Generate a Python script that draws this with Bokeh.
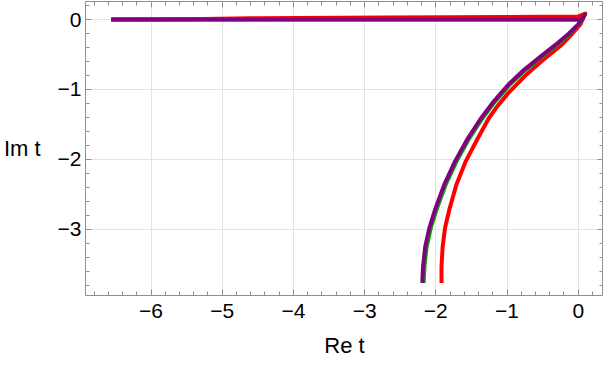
from bokeh.plotting import figure
from bokeh.models import FixedTicker, LinearAxis, Range1d
from bokeh.embed import file_html
from bokeh.resources import INLINE

# ---- data ----
red_x = [-6.56, -5.5, -4.6, -2.7, -1.0, 0.0, 0.10,
         0.03, -0.10, -0.23, -0.52, -0.75, -0.98, -1.15, -1.26, -1.41,
         -1.58, -1.71, -1.81, -1.87, -1.905, -1.92, -1.92]
red_y = [0.0, 0.005, 0.018, 0.030, 0.036, 0.045, 0.085,
         -0.07, -0.22, -0.36, -0.60, -0.81, -1.05, -1.26, -1.42, -1.70,
         -2.03, -2.36, -2.72, -2.98, -3.26, -3.54, -3.77]

green_x = [-6.56, 0.05, 0.09,
           0.01, -0.12, -0.26, -0.51, -0.74, -0.96, -1.18, -1.35, -1.53,
           -1.71, -1.86, -1.99, -2.07, -2.13, -2.16, -2.17]
green_y = [0.0, 0.0, 0.07,
           -0.07, -0.20, -0.33, -0.53, -0.72, -0.93, -1.19, -1.42, -1.70,
           -2.03, -2.36, -2.72, -2.98, -3.26, -3.54, -3.77]

purple_x = [-6.56, 0.05, 0.09,
            0.0, -0.13, -0.28, -0.53, -0.76, -0.98, -1.20, -1.37, -1.55,
            -1.73, -1.88, -2.01, -2.09, -2.15, -2.18, -2.19]
purple_y = [0.0, 0.0, 0.07,
            -0.07, -0.20, -0.33, -0.53, -0.72, -0.93, -1.19, -1.42, -1.70,
            -2.03, -2.36, -2.72, -2.98, -3.26, -3.54, -3.77]

x_major = [-6, -5, -4, -3, -2, -1, 0]
x_labels = ["\u22126", "\u22125", "\u22124", "\u22123", "\u22122", "\u22121", "0"]
y_major = [-3, -2, -1, 0]
y_labels = ["\u22123", "\u22122", "\u22121", "0"]
x_minor = [round(-6.8 + 0.2 * i, 1) for i in range(36)]
y_minor = [round(-3.8 + 0.2 * i, 1) for i in range(21)]

FONT = "Liberation Sans"
FRAME = "#8f8f8f"

p = figure(width=603, height=360, output_backend="svg", toolbar_location=None,
           x_range=Range1d(-6.92, 0.355), y_range=Range1d(-3.95, 0.258),
           min_border_left=84, min_border_right=0, min_border_top=1,
           min_border_bottom=61, x_axis_label="Re t", y_axis_label="Im t")

p.outline_line_color = FRAME
p.outline_line_width = 1
p.background_fill_color = "white"
p.border_fill_color = "white"


def tick_style(ax, major_len, minor_len):
    ax.axis_line_color = None
    ax.major_tick_in = major_len
    ax.major_tick_out = 0
    ax.minor_tick_in = minor_len
    ax.minor_tick_out = 0
    ax.major_tick_line_color = FRAME
    ax.minor_tick_line_color = FRAME


def label_style(ax, major, minor, labels):
    ax.ticker = FixedTicker(ticks=major, minor_ticks=minor)
    tick_style(ax, 6, 4)
    ax.major_label_overrides = {t: l for t, l in zip(major, labels)}
    ax.major_label_text_font = FONT
    ax.major_label_text_font_size = "21px"
    ax.major_label_text_color = "black"
    ax.axis_label_text_font = FONT
    ax.axis_label_text_font_size = "22px"
    ax.axis_label_text_font_style = "normal"
    ax.axis_label_text_color = "black"


label_style(p.xaxis[0], x_major, x_minor, x_labels)
label_style(p.yaxis[0], y_major, y_minor, y_labels)
p.xaxis[0].major_label_standoff = 8
p.xaxis[0].axis_label_standoff = 12
p.yaxis[0].major_label_standoff = 4
p.yaxis[0].axis_label_standoff = 14
p.yaxis[0].axis_label_orientation = "horizontal"

# mirrored tick marks on the top and right frame edges (no labels)
for side, major, minor in (("above", x_major, x_minor), ("right", y_major, y_minor)):
    a_min = LinearAxis(ticker=FixedTicker(ticks=[], minor_ticks=minor))
    tick_style(a_min, 6, 4)
    a_min.major_label_standoff = 0
    p.add_layout(a_min, side)
    a_maj = LinearAxis(ticker=FixedTicker(ticks=[], minor_ticks=major))
    tick_style(a_maj, 6, 6)
    a_maj.major_label_standoff = 0
    p.add_layout(a_maj, side)

p.xgrid.ticker = FixedTicker(ticks=x_major)
p.ygrid.ticker = FixedTicker(ticks=y_major)
p.xgrid.grid_line_color = "#e3e3e3"
p.ygrid.grid_line_color = "#e3e3e3"

p.line(red_x, red_y, line_color="#ff0000", line_width=4, line_join="round")
p.line(green_x, green_y, line_color="#00a800", line_width=4, line_join="round")
p.line(purple_x, purple_y, line_color="#800080", line_width=4, line_join="round")

open("out.html", "w").write(file_html(p, INLINE))
